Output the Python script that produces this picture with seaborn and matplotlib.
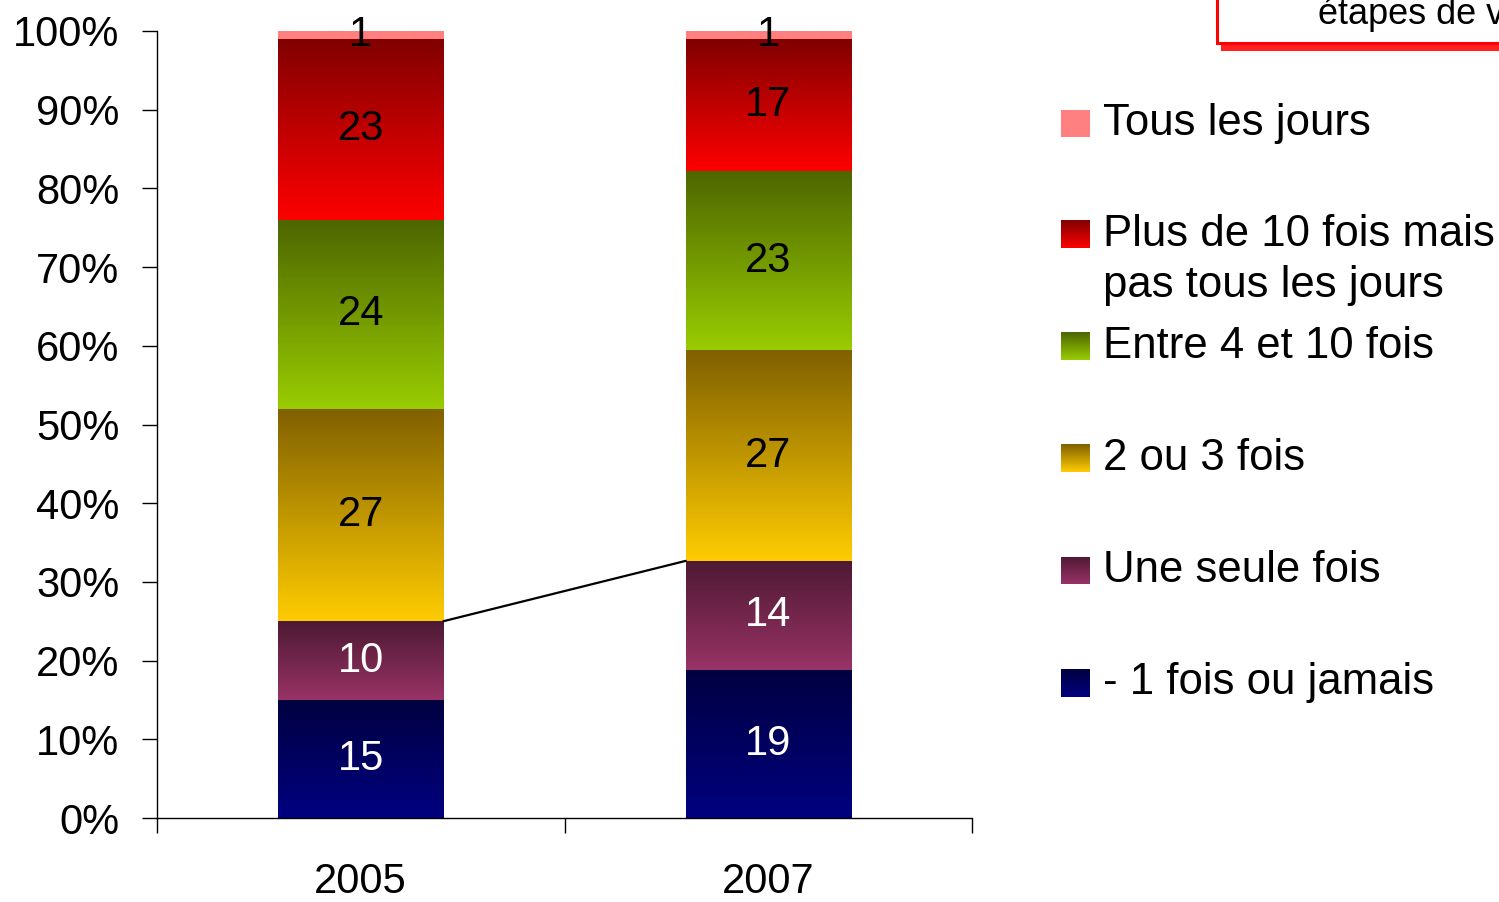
import numpy as np
import pandas as pd
import matplotlib
matplotlib.use("Agg")
import matplotlib.pyplot as plt
import matplotlib.colors as mcolors
from matplotlib.patches import Rectangle
import seaborn as sns

# data (bottom -> top of each bar)
years = ["2005", "2007"]
categories = ["- 1 fois ou jamais", "Une seule fois", "2 ou 3 fois",
              "Entre 4 et 10 fois", "Plus de 10 fois mais\npas tous les jours",
              "Tous les jours"]
v2005 = [15, 10, 27, 24, 23, 1]
v2007 = [19, 14, 27, 23, 17, 1]

# gradient colours: top of segment -> bottom of segment
top_colors = ["#000040", "#4D1933", "#806000", "#4D6600", "#800000", "#FF8080"]
bottom_colors = ["#000080", "#993366", "#FFCC00", "#99CC00", "#FF0000", "#FF8080"]
label_colors = ["white", "white", "black", "black", "black", "black"]

W, H = 1499, 902

sns.set_style("white")
plt.rcParams["font.family"] = ["Liberation Sans", "DejaVu Sans"]
plt.rcParams["text.color"] = "black"
plt.rcParams["xtick.color"] = "black"
plt.rcParams["ytick.color"] = "black"

vals = np.array([v2005, v2007], dtype=float)
pct = vals / vals.sum(axis=1, keepdims=True) * 100
cum = np.cumsum(pct, axis=1)

fig = plt.figure(figsize=(W / 100, H / 100), dpi=100)
ax = fig.add_axes([157 / W, 1 - 818 / H, (972 - 157) / W, (818 - 31) / H])

# stacked bars: draw cumulative totals from the tallest down
bar_patches = {}
for k in range(len(categories) - 1, -1, -1):
    df = pd.DataFrame({"year": years, "value": cum[:, k]})
    n_before = len(ax.patches)
    sns.barplot(data=df, x="year", y="value", color=bottom_colors[k],
                width=0.405, ax=ax, saturation=1, errorbar=None)
    bar_patches[k] = ax.patches[n_before:]


def gradient(top, bottom, n=256):
    c0 = np.array(mcolors.to_rgb(top))
    c1 = np.array(mcolors.to_rgb(bottom))
    t = np.linspace(0, 1, n)[:, None]
    return (c0 * (1 - t) + c1 * t)[:, None, :]


# gradient fill on each segment + value labels
for k in range(len(categories)):
    for j, p in enumerate(bar_patches[k]):
        x0 = p.get_x()
        x1 = x0 + p.get_width()
        y0 = cum[j, k - 1] if k > 0 else 0
        y1 = cum[j, k]
        ax.imshow(gradient(top_colors[k], bottom_colors[k]), extent=[x0, x1, y0, y1],
                  aspect="auto", origin="upper", zorder=2, interpolation="bilinear")
        ax.text(j, (y0 + y1) / 2, f"{int(vals[j, k])}", ha="center", va="center",
                fontsize=30, color=label_colors[k], zorder=4)

# series line between the two bars (top of "Une seule fois")
p05 = bar_patches[1][0]
p07 = bar_patches[1][1]
ax.plot([p05.get_x() + p05.get_width(), p07.get_x()], [cum[0, 1], cum[1, 1]],
        color="black", lw=1.6, zorder=3)

ax.set_xlim(-0.5, 1.5)
ax.set_ylim(0, 100)
ax.set_xlabel("")
ax.set_ylabel("")
ax.set_yticks(np.arange(0, 101, 10))
ax.set_yticklabels([f"{t}%" for t in range(0, 101, 10)], fontsize=30)
ax.tick_params(axis="y", length=11, width=1, color="black", direction="out",
               pad=16, left=True, labelcolor="black")
ax.set_xticks([-0.5, 0.5, 1.5])
ax.set_xticklabels([])
ax.tick_params(axis="x", which="major", length=11, width=1, color="black",
               direction="out", bottom=True)
ax.set_xticks([0, 1], minor=True)
ax.set_xticklabels(years, minor=True, fontsize=30)
ax.tick_params(axis="x", which="minor", length=0, pad=32, labelcolor="black")
for s in ["top", "right"]:
    ax.spines[s].set_visible(False)
for s in ["left", "bottom"]:
    ax.spines[s].set_color("black")
    ax.spines[s].set_linewidth(1)

# legend (gradient squares), top -> bottom
legend_centers = [123.5, 234, 346, 458, 570.5, 682.5]
for i, k in enumerate(range(len(categories) - 1, -1, -1)):
    cy = legend_centers[i]
    lax = fig.add_axes([1061 / W, 1 - (cy + 14) / H, 29 / W, 28 / H])
    lax.imshow(gradient(top_colors[k], bottom_colors[k]), aspect="auto",
               interpolation="bilinear")
    lax.axis("off")
    for li, line in enumerate(categories[k].split("\n")):
        fig.text(1103 / W, 1 - (cy + li * 51) / H, line, fontsize=31.5,
                 ha="left", va="center", color="black")

# cut-off title box in the top-right corner
fig.patches.append(Rectangle((1221 / W, 1 - 51 / H), 0.3, 0.2, transform=fig.transFigure,
                             facecolor="#FF2020", edgecolor="none", zorder=1))
fig.patches.append(Rectangle((1217 / W, 1 - 43 / H), 0.3, 0.2, transform=fig.transFigure,
                             facecolor="white", edgecolor="#FF0000", lw=2.2, zorder=2))
fig.text(1318 / W, 1 - 24 / H, "étapes de vie", fontsize=26, ha="left",
         va="baseline", color="black", zorder=3)

fig.savefig("out.png", dpi=100)
